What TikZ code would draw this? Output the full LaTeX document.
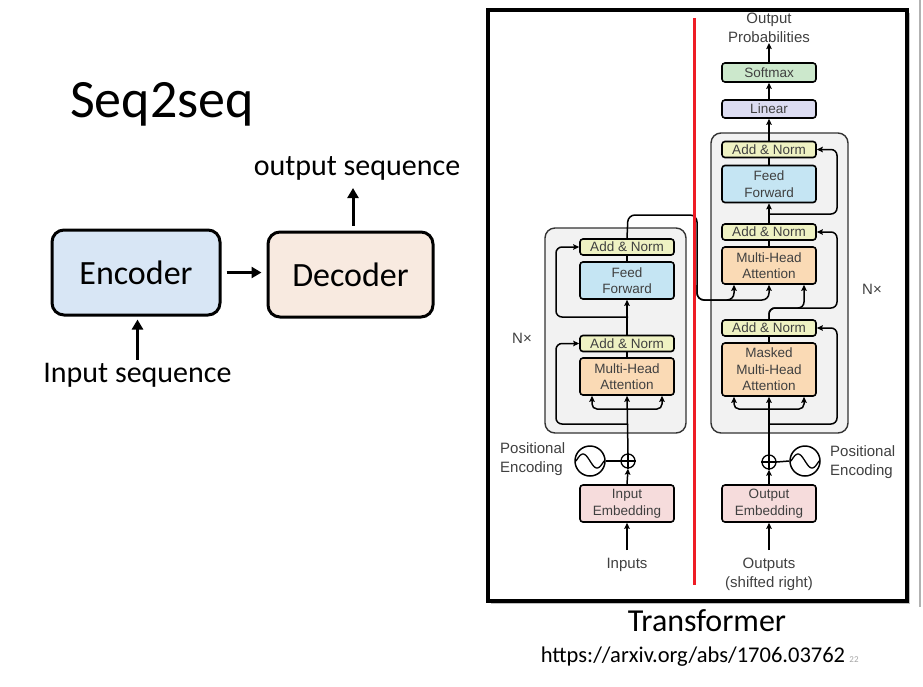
\documentclass[tikz,border=0pt]{standalone}
\usepackage{fontspec}
\setmainfont{Carlito}
\newfontfamily\tfont{Liberation Sans}
\usetikzlibrary{arrows.meta,calc}

\definecolor{encfill}{HTML}{D8E6F5}
\definecolor{decfill}{HTML}{F8EAE0}
\definecolor{anfill}{HTML}{EFF2C3}
\definecolor{fffill}{HTML}{C5E5F3}
\definecolor{mhafill}{HTML}{FADAB5}
\definecolor{embfill}{HTML}{F6DCDC}
\definecolor{linfill}{HTML}{DCDCF1}
\definecolor{smfill}{HTML}{CCE8CC}
\definecolor{blockfill}{HTML}{F2F2F2}
\definecolor{redline}{HTML}{EE1C25}
\definecolor{tgray}{HTML}{404040}

\begin{document}
\begin{tikzpicture}[x=1pt,y=-1pt,
  seqbox/.style={draw=black, line width=3pt, rounded corners=12pt, inner sep=0pt,
    font=\fontsize{34}{40}\selectfont},
  bigarrow/.style={line width=3pt, -{Triangle[length=10pt,width=11pt]}},
  tbox/.style={draw=black, line width=1.6pt, rounded corners=3pt, minimum width=94pt,
    inner sep=0pt, align=center, text=tgray,
    font=\tfont\fontsize{13.5}{16.5}\selectfont},
  addnorm/.style={tbox, fill=anfill, minimum height=16pt},
  ffbox/.style={tbox, fill=fffill, minimum height=37pt},
  mhabox/.style={tbox, fill=mhafill, minimum height=37pt},
  embbox/.style={tbox, fill=embfill, minimum height=37pt},
  nxblock/.style={draw=black!80, line width=1.4pt, fill=blockfill, rounded corners=10pt, inner sep=0pt},
  tlabel/.style={inner sep=0pt, text=tgray, font=\tfont\fontsize{15}{19}\selectfont},
  wire/.style={line width=1.5pt},
  flow/.style={line width=1.5pt, -{Stealth[length=6pt,width=5.5pt,inset=1pt]}},
  pluscirc/.style={circle, draw=black, line width=1.3pt, minimum size=14pt, inner sep=0pt},
  sincirc/.style={circle, draw=black, line width=1.5pt, minimum size=30pt, inner sep=0pt},
]
\useasboundingbox (0,0) rectangle (923,686);
\fill[white] (0,0) rectangle (923,686);

% ---------------- Seq2seq sketch ----------------
\node[anchor=base west, inner sep=0pt, font=\fontsize{54}{60}\selectfont] (title) at (70,117) {Seq2seq};

\node[seqbox, fill=encfill, minimum width=168pt, minimum height=85pt] (enc) at (136,272.5) {Encoder};
\node[seqbox, fill=decfill, minimum width=165pt, minimum height=85pt] (dec) at (350.5,274.5) {Decoder};

\node[anchor=base, inner sep=0pt, font=\fontsize{30}{36}\selectfont] (outseq) at (357,175) {output sequence};
\node[anchor=base, inner sep=0pt, font=\fontsize{30}{36}\selectfont] (inseq) at (137.5,382) {Input sequence};

\coordinate (decOut) at (353,188);
\draw[bigarrow] ([yshift=5pt]decOut |- dec.north) -- (decOut);
\draw[bigarrow] ([xshift=5pt]enc.east) -- ([xshift=-5pt]enc.east -| dec.west);
\draw[bigarrow] ([yshift=3pt]inseq.north) -- ([yshift=-3pt]inseq.north |- enc.south);

% ---------------- Transformer panel ----------------
\fill[black!25] (491,13) rectangle (910,604);
\fill[white] (488,10) rectangle (907,601);
\draw[line width=1.5pt, black!30] (920,0) -- (920,607);

% layer stacks
\node[nxblock, minimum width=141pt, minimum height=205pt] (eBlock) at (615.5,330.5) {};
\node[nxblock, minimum width=137pt, minimum height=300pt] (dBlock) at (779.5,283) {};

% encoder
\node[addnorm] (eAN2) at (627,247) {Add \& Norm};
\node[ffbox] (eFF) at (627,280.5) {Feed\\Forward};
\node[addnorm] (eAN1) at (627,343.5) {Add \& Norm};
\node[mhabox] (eMHA) at (627,376.5) {Multi-Head\\Attention};
\node[embbox] (eEmb) at (627,503.5) {Input\\Embedding};

% decoder
\node[tbox, fill=smfill, minimum height=19pt] (soft) at (769,72.5) {Softmax};
\node[tbox, fill=linfill, minimum height=18pt] (lin) at (769,109) {Linear};
\node[addnorm] (dAN3) at (769,149.5) {Add \& Norm};
\node[ffbox] (dFF) at (769,184) {Feed\\Forward};
\node[addnorm] (dAN2) at (769,232) {Add \& Norm};
\node[mhabox] (dMHA) at (769,265.5) {Multi-Head\\Attention};
\node[addnorm] (dAN1) at (769,328) {Add \& Norm};
\node[mhabox, minimum height=53pt] (dMMHA) at (769,369.5) {Masked\\Multi-Head\\Attention};
\node[embbox] (dEmb) at (769,503.5) {Output\\Embedding};

% positional encodings
\node[pluscirc] (ePlus) at (628,461) {};
\draw[line width=1.2pt] (ePlus.north) -- (ePlus.south) (ePlus.west) -- (ePlus.east);
\node[sincirc] (eSin) at (590,461) {};
\draw[line width=1.3pt, shift={(eSin.center)}] plot[domain=-1:1, samples=41, smooth] ({14*\x},{7*sin(180*\x)});
\draw[wire] (eSin.east) -- (ePlus.west);

\node[pluscirc] (dPlus) at (769,462) {};
\draw[line width=1.2pt] (dPlus.north) -- (dPlus.south) (dPlus.west) -- (dPlus.east);
\node[sincirc] (dSin) at (805,461) {};
\draw[line width=1.3pt, shift={(dSin.center)}] plot[domain=-1:1, samples=41, smooth] ({14*\x},{7*sin(180*\x)});
\draw[wire] (dPlus.east) -- (dSin.west);

% labels
\node[tlabel, align=left, anchor=west] (ePos) at (500,459.5) {Positional\\Encoding};
\node[tlabel, align=left, anchor=west] (dPos) at (830,462) {Positional\\Encoding};
\node[tlabel] (eN) at (522,338) {N×};
\node[tlabel] (dN) at (872,289) {N×};
\node[tlabel] (inputs) at (627,565) {Inputs};
\node[tlabel, align=center] (outputs) at (769,574.5) {Outputs\\(shifted right)};
\node[tlabel, align=center, anchor=south] (probs) at (769,43) {Output\\Probabilities};

% encoder wiring
\draw[flow] ([yshift=8pt]inputs.north) -- (eEmb.south);
\draw[flow] (eEmb.north) -- (ePlus.south);
\draw[flow] (ePlus.north) -- (eMHA.south);
\coordinate (eSplit) at (628,409);
\draw[flow, rounded corners=5pt] (eSplit) -| ([xshift=-35pt]eMHA.south);
\draw[flow, rounded corners=5pt] (eSplit) -| ([xshift=35pt]eMHA.south);
\coordinate (eRes1) at (628,424);
\draw[flow, rounded corners=6pt] (eRes1) -- (556,424) |- (eAN1.west);
\draw[wire] (eMHA.north) -- (eAN1.south);
\draw[flow] (eAN1.north) -- (eFF.south);
\coordinate (eRes2) at (628,317);
\draw[flow, rounded corners=6pt] (eRes2) -- (556,317) |- (eAN2.west);
\draw[wire] (eFF.north) -- (eAN2.south);

% encoder output into the decoder attention
\draw[flow, rounded corners=7pt] (eAN2.north) -- (628,215) -- (697,215) -- (697,300) -| ([xshift=-35pt]dMHA.south);
\draw[flow, rounded corners=7pt] (697,285) -- (697,300) -| (dMHA.south);

% decoder wiring
\draw[flow] ([yshift=8pt]outputs.north) -- (dEmb.south);
\draw[flow] (dEmb.north) -- (dPlus.south);
\draw[flow] (dPlus.north) -- (dMMHA.south);
\coordinate (dSplit) at (769,409);
\draw[flow, rounded corners=5pt] (dSplit) -| ([xshift=-35pt]dMMHA.south);
\draw[flow, rounded corners=5pt] (dSplit) -| ([xshift=35pt]dMMHA.south);
\coordinate (dRes1) at (769,424);
\draw[flow, rounded corners=6pt] (dRes1) -- (837,424) |- (dAN1.east);
\draw[wire] (dMMHA.north) -- (dAN1.south);
\draw[flow, rounded corners=6pt] (dAN1.north) -- (769,308) -| ([xshift=35pt]dMHA.south);
\draw[flow, rounded corners=6pt] (dAN1.north) -- (769,308) -- (837,308) |- (dAN2.east);
\draw[wire] (dMHA.north) -- (dAN2.south);
\draw[flow] (dAN2.north) -- (dFF.south);
\coordinate (dRes2) at (769,214);
\draw[flow, rounded corners=6pt] (dRes2) -- (837,214) |- (dAN3.east);
\draw[wire] (dFF.north) -- (dAN3.south);
\draw[flow] (dAN3.north) -- (lin.south);
\draw[flow] (lin.north) -- (soft.south);
\draw[flow] (soft.north) -- (probs.south);

% panel frame and divider
\draw[line width=3.5pt] (488,10) rectangle (907,601);
\draw[line width=3pt, redline] (694,18) -- (694,585);

% captions
\node[inner sep=0pt, font=\fontsize{32}{38}\selectfont] (tcap) at (707,621) {Transformer};
\node[inner sep=0pt, font=\fontsize{22.5}{26}\selectfont] (url) at (693,657) {https://arxiv.org/abs/1706.03762};
\node[inner sep=0pt, text=black!35, font=\fontsize{9}{10}\selectfont] (pnum) at (854,660) {22};
\end{tikzpicture}
\end{document}
